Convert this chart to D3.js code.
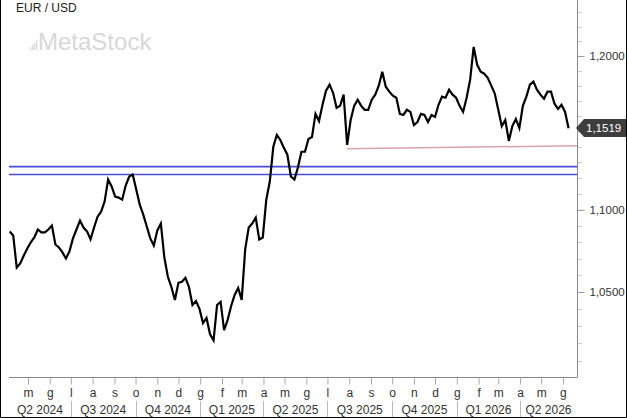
<!DOCTYPE html>
<html>
<head>
<meta charset="utf-8">
<script src="https://cdn.jsdelivr.net/npm/d3@7"></script>
<style>
  body { margin: 0; background: #fff; }
  svg { display: block; font-family: "Liberation Sans", Arial, sans-serif; }
</style>
</head>
<body>
<svg id="chart" width="627" height="418"></svg>
<script>
// EUR/USD closes, one reading every 5 calendar days starting 2024-04-05
var startDate = "2024-04-05";
var stepDays = 5;
var closes = [
  1.0866, 1.0841, 1.0646, 1.0671, 1.0719, 1.0762, 1.0799, 1.0829, 1.0878, 1.0860,
  1.0860, 1.0878, 1.0902, 1.0786, 1.0768, 1.0738, 1.0701, 1.0744, 1.0823, 1.0878,
  1.0933, 1.0890, 1.0866, 1.0817, 1.0890, 1.0957, 1.0988, 1.1051, 1.1190, 1.1146,
  1.1082, 1.1076, 1.1063, 1.1152, 1.1209, 1.1221, 1.1127, 1.1032, 1.0970, 1.0896,
  1.0823, 1.0780, 1.0872, 1.0915, 1.0707, 1.0591, 1.0530, 1.0453, 1.0555, 1.0561,
  1.0585, 1.0530, 1.0423, 1.0447, 1.0400, 1.0317, 1.0347, 1.0252, 1.0217, 1.0423,
  1.0441, 1.0276, 1.0335, 1.0417, 1.0482, 1.0524, 1.0453, 1.0756, 1.0890, 1.0915,
  1.0951, 1.0817, 1.0829, 1.1063, 1.1177, 1.1399, 1.1475, 1.1443, 1.1392, 1.1348,
  1.1209, 1.1190, 1.1266, 1.1367, 1.1367, 1.1449, 1.1462, 1.1613, 1.1566, 1.1673,
  1.1767, 1.1807, 1.1753, 1.1653, 1.1666, 1.1740, 1.1411, 1.1573, 1.1666, 1.1707,
  1.1666, 1.1640, 1.1640, 1.1707, 1.1740, 1.1800, 1.1893, 1.1793, 1.1760, 1.1733,
  1.1720, 1.1613, 1.1606, 1.1640, 1.1626, 1.1540, 1.1560, 1.1613, 1.1606, 1.1560,
  1.1606, 1.1593, 1.1673, 1.1727, 1.1720, 1.1773, 1.1740, 1.1720, 1.1666, 1.1626,
  1.1720, 1.1840, 1.2062, 1.1940, 1.1893, 1.1880, 1.1853, 1.1800, 1.1747, 1.1640,
  1.1533, 1.1573, 1.1437, 1.1533, 1.1580, 1.1520, 1.1666, 1.1727, 1.1807, 1.1827,
  1.1773, 1.1740, 1.1713, 1.1760, 1.1760, 1.1680, 1.1646, 1.1673, 1.1626, 1.1519
];
var lastPrice = 1.1519;

// horizontal support lines and the rising trendline
var supportLevels = [1.1272, 1.1222];
var trendDates = ["2025-07-29", "2026-06-21"];
var trendValues = [1.1386, 1.1406];

var yMajorTicks = [1.05, 1.10, 1.15, 1.20];
var monthInitials = ["g", "f", "m", "a", "m", "g", "l", "a", "s", "o", "n", "d"];

var parse = d3.timeParse("%Y-%m-%d");
var data = closes.map(function(v, i) {
  return { date: d3.timeDay.offset(parse(startDate), i * stepDays), value: v };
});

var W = 627, H = 418;
var plot = { left: 9, right: 577, top: 0, bottom: 377 };

var svg = d3.select("#chart");

var x = d3.scaleTime()
  .domain([parse("2024-04-04"), parse("2026-06-21")])
  .range([plot.left, plot.right]);

var y = d3.scaleLog()
  .domain([1.0007, 1.2386])
  .range([plot.bottom, plot.top]);

// outer border (no top edge)
svg.append("path")
  .attr("d", "M0.5,0 V" + (H - 0.5) + " H" + (W - 0.5) + " V0")
  .attr("fill", "none")
  .attr("stroke", "#000");

// title + watermark
svg.append("text")
  .attr("x", 16).attr("y", 12)
  .attr("font-size", 12).attr("fill", "#222")
  .text("EUR / USD");

var wm = svg.append("g").attr("fill", "#d8d8d8");
[3, 5, 7, 10].forEach(function(h, i) {
  wm.append("rect").attr("x", 30 + i * 2).attr("y", 50 - h).attr("width", 1.3).attr("height", h);
});
wm.append("text")
  .attr("x", 38).attr("y", 50)
  .attr("font-size", 24)
  .text("MetaStock");

// frame
svg.append("line")
  .attr("x1", plot.left).attr("x2", plot.right)
  .attr("y1", plot.bottom + 0.5).attr("y2", plot.bottom + 0.5)
  .attr("stroke", "#888");
svg.append("line")
  .attr("x1", plot.right + 0.5).attr("x2", plot.right + 0.5)
  .attr("y1", 0).attr("y2", plot.bottom + 0.5)
  .attr("stroke", "#888");

// y axis: minor ticks every 0.01, labelled every 0.05
var minor = d3.range(1.01, 1.235, 0.01);
svg.append("g")
  .selectAll("line").data(minor).enter().append("line")
  .attr("x1", plot.right + 1).attr("x2", plot.right + 5)
  .attr("y1", function(d) { return Math.round(y(d)) + 0.5; })
  .attr("y2", function(d) { return Math.round(y(d)) + 0.5; })
  .attr("stroke", "#ccc");

var fmt = function(d) { return d3.format(".4f")(d).replace(".", ","); };
var yAxis = svg.append("g")
  .attr("transform", "translate(" + (plot.right + 0.5) + ",0)")
  .call(d3.axisRight(y).tickValues(yMajorTicks).tickSize(7).tickPadding(5).tickFormat(fmt));
yAxis.select(".domain").remove();
yAxis.selectAll("line").attr("stroke", "#999");
yAxis.selectAll("text")
  .attr("font-size", 11.5).attr("fill", "#333")
  .attr("font-family", "Liberation Sans, Arial, sans-serif")
  .style("display", function(d) { return Math.abs(y(d) - y(lastPrice)) < 12 ? "none" : null; });

// x axis: month initials at month starts
var months = d3.timeMonth.range(parse("2024-05-01"), parse("2026-06-15"));
var xAxis = svg.append("g")
  .attr("transform", "translate(0," + (plot.bottom + 0.5) + ")")
  .call(d3.axisBottom(x).tickValues(months).tickSize(7).tickPadding(4)
    .tickFormat(function(d) { return monthInitials[d.getMonth()]; }));
xAxis.select(".domain").remove();
xAxis.selectAll("line").attr("stroke", "#aaa");
xAxis.selectAll("text")
  .attr("font-size", 12).attr("fill", "#333")
  .attr("font-family", "Liberation Sans, Arial, sans-serif");

// quarter band
var quarters = d3.timeMonth.every(3).range(parse("2024-07-01"), parse("2026-06-21"));
svg.append("g").selectAll("line").data(quarters).enter().append("line")
  .attr("x1", function(d) { return Math.round(x(d)) + 0.5; })
  .attr("x2", function(d) { return Math.round(x(d)) + 0.5; })
  .attr("y1", 401).attr("y2", H - 1)
  .attr("stroke", "#bbb");

var qEdges = [x.domain()[0]].concat(quarters, [x.domain()[1]]);
var qLabels = [];
for (var i = 0; i < qEdges.length - 1; i++) {
  var a = qEdges[i], b = qEdges[i + 1];
  var mid = d3.timeDay.offset(a, 20);
  qLabels.push({
    cx: (x(a) + x(b)) / 2,
    text: "Q" + (Math.floor(mid.getMonth() / 3) + 1) + " " + mid.getFullYear()
  });
}
svg.append("g").selectAll("text").data(qLabels).enter().append("text")
  .attr("x", function(d) { return d.cx; })
  .attr("y", 414)
  .attr("text-anchor", "middle")
  .attr("font-size", 12).attr("fill", "#333")
  .text(function(d) { return d.text; });

// support lines
svg.append("g").selectAll("line").data(supportLevels).enter().append("line")
  .attr("x1", plot.left).attr("x2", plot.right)
  .attr("y1", function(d) { return y(d); })
  .attr("y2", function(d) { return y(d); })
  .attr("stroke", "#4b4bdc").attr("stroke-width", 1.6);

// trendline
svg.append("line")
  .attr("x1", x(parse(trendDates[0]))).attr("y1", y(trendValues[0]))
  .attr("x2", x(parse(trendDates[1]))).attr("y2", y(trendValues[1]))
  .attr("stroke", "#d9a3ad").attr("stroke-width", 1.5);

// price line
var line = d3.line()
  .x(function(d) { return x(d.date); })
  .y(function(d) { return y(d.value); });
svg.append("path")
  .datum(data)
  .attr("d", line)
  .attr("fill", "none")
  .attr("stroke", "#000")
  .attr("stroke-width", 2.2)
  .attr("stroke-linejoin", "miter");

// last price tag
var ty = Math.round(y(lastPrice));
svg.append("path")
  .attr("d", "M" + (plot.right - 1) + "," + ty + " L" + (plot.right + 7) + "," + (ty - 9) +
    " H" + (W - 1) + " V" + (ty + 9) + " H" + (plot.right + 7) + " Z")
  .attr("fill", "#3d3d3d");
svg.append("text")
  .attr("x", plot.right + 9).attr("y", ty + 4)
  .attr("font-size", 11.5).attr("fill", "#fff")
  .text(fmt(lastPrice));
</script>
</body>
</html>
